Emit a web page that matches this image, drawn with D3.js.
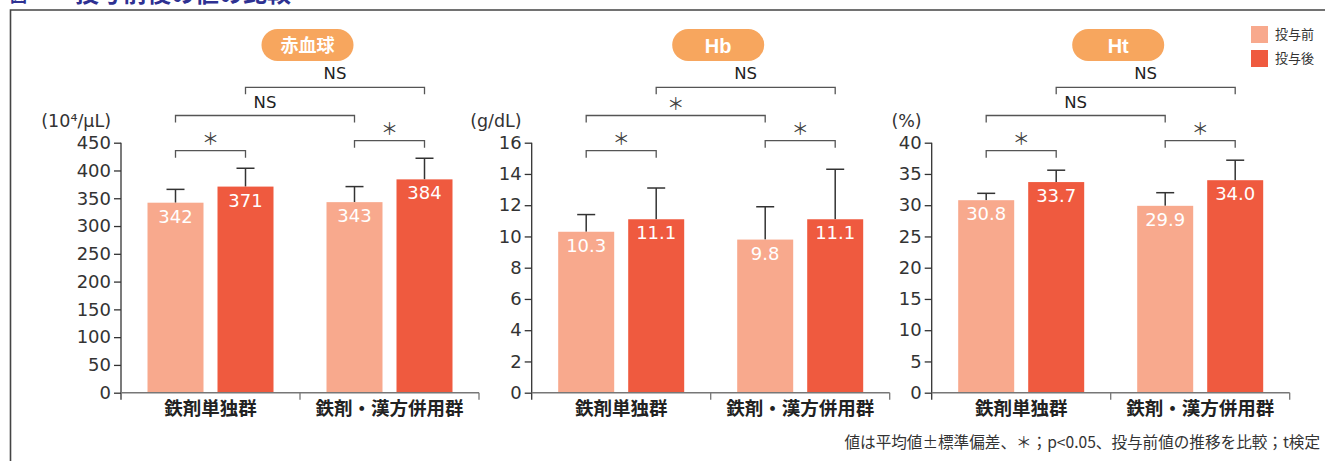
<!DOCTYPE html>
<html lang="ja">
<head>
<meta charset="utf-8">
<script src="https://cdn.jsdelivr.net/npm/d3@7/dist/d3.min.js"></script>
<style>
  html, body { margin: 0; padding: 0; background: #fff; }
  svg { display: block; }
</style>
</head>
<body>
<svg id="chart" width="1325" height="461"></svg>
<script>
// ---- data ----
const groups = ["鉄剤単独群", "鉄剤・漢方併用群"];
const phases = ["投与前", "投与後"];
const panelNames = ["赤血球", "Hb", "Ht"];
const unitLabels = ["(10⁴/μL)", "(g/dL)", "(%)"];

const rbcTicks = [0, 50, 100, 150, 200, 250, 300, 350, 400, 450];
const hbTicks = [0, 2, 4, 6, 8, 10, 12, 14, 16];
const htTicks = [0, 5, 10, 15, 20, 25, 30, 35, 40];

// mean and SD per group: [投与前, 投与後]
const rbcMean = [[342, 371], [343, 384]];
const rbcSD = [[24, 33], [28, 38]];
const hbMean = [[10.3, 11.1], [9.8, 11.1]];
const hbSD = [[1.1, 2.0], [2.1, 3.2]];
const htMean = [[30.8, 33.7], [29.9, 34.0]];
const htSD = [[1.1, 1.9], [2.1, 3.2]];

// significance marks: [単独群 前後, 併用群 前後, 投与前 群間, 投与後 群間]
const rbcSig = ["＊", "＊", "NS", "NS"];
const hbSig = ["＊", "＊", "＊", "NS"];
const htSig = ["＊", "＊", "NS", "NS"];

const footnote = "値は平均値±標準偏差、＊；p<0.05、投与前値の推移を比較；t検定";

// ---- layout ----
const NUM_FONT = "'DejaVu Sans', 'Noto Sans CJK JP', sans-serif";
const JP_FONT = "'Noto Sans CJK JP', sans-serif";
const colors = { "投与前": "#F8A98D", "投与後": "#EF5A3F" };
const INK = "#333";

const panels = [
  { name: panelNames[0], unit: unitLabels[0], ticks: rbcTicks, mean: rbcMean, sd: rbcSD, sig: rbcSig, fmt: d3.format("d"), left: 121 },
  { name: panelNames[1], unit: unitLabels[1], ticks: hbTicks, mean: hbMean, sd: hbSD, sig: hbSig, fmt: d3.format(".1f"), left: 531.7 },
  { name: panelNames[2], unit: unitLabels[2], ticks: htTicks, mean: htMean, sd: htSD, sig: htSig, fmt: d3.format(".1f"), left: 931.7 }
];

const plotW = 358, yTop = 142.7, yBase = 392.7;

const svg = d3.select("#chart");

// figure caption (runs off the top edge) and frame
svg.append("text").attr("x", 10).attr("y", 2)
  .attr("font-family", JP_FONT).attr("font-weight", 700).attr("font-size", 17)
  .attr("fill", "#2E3192").text("図");
svg.append("text").attr("x", 75).attr("y", 2)
  .attr("font-family", JP_FONT).attr("font-weight", 700).attr("font-size", 24)
  .attr("fill", "#2E3192").text("投与前後の値の比較");
svg.append("path").attr("d", "M10.5,470 V10 H1330")
  .attr("fill", "none").attr("stroke", "#444").attr("stroke-width", 1.6);

// legend
const legend = svg.append("g");
phases.forEach((p, i) => {
  legend.append("rect").attr("x", 1251).attr("y", 26 + i * 24).attr("width", 17).attr("height", 17)
    .attr("fill", colors[p]);
  legend.append("text").attr("x", 1275).attr("y", 39 + i * 24)
    .attr("font-family", JP_FONT).attr("font-size", 13).attr("fill", INK).text(p);
});

// footnote
svg.append("text").attr("x", 1320).attr("y", 448).attr("text-anchor", "end")
  .attr("font-family", JP_FONT).attr("font-size", 15.6).attr("fill", INK).text(footnote);

panels.forEach(pn => {
  const g = svg.append("g").attr("transform", `translate(${pn.left},0)`);

  const y = d3.scaleLinear().domain([0, d3.max(pn.ticks)]).range([yBase, yTop]);
  const x0 = d3.scaleBand().domain(groups).range([0, plotW]).padding(0);
  const x1 = d3.scaleBand().domain(phases).range([26.5, 152.5]).paddingInner(0.2);
  const cx = (gi, pi) => x0(groups[gi]) + x1(phases[pi]) + x1.bandwidth() / 2;

  // bars
  groups.forEach((grp, gi) => {
    phases.forEach((ph, pi) => {
      const v = pn.mean[gi][pi], s = pn.sd[gi][pi];
      const xc = cx(gi, pi);
      // error bar (upper SD)
      g.append("line").attr("x1", xc).attr("x2", xc).attr("y1", y(v)).attr("y2", y(v + s))
        .attr("stroke", INK).attr("stroke-width", 1.5);
      g.append("line").attr("x1", xc - 9).attr("x2", xc + 9).attr("y1", y(v + s)).attr("y2", y(v + s))
        .attr("stroke", INK).attr("stroke-width", 1.5);
      g.append("rect")
        .attr("x", x0(grp) + x1(ph)).attr("width", x1.bandwidth())
        .attr("y", y(v)).attr("height", y(0) - y(v))
        .attr("fill", colors[ph]);
      g.append("text").attr("x", xc).attr("y", y(v) + 20).attr("text-anchor", "middle")
        .attr("font-family", NUM_FONT).attr("font-size", 18).attr("fill", "#fff")
        .text(pn.fmt(v));
    });
  });

  // y axis
  const ya = g.append("g").call(d3.axisLeft(y).tickValues(pn.ticks).tickSize(7).tickSizeOuter(0).tickPadding(3));
  ya.select(".domain").attr("stroke", INK).attr("stroke-width", 1.3)
    .attr("d", `M0,${y(d3.max(pn.ticks))}V${yBase + 7}`);
  ya.selectAll(".tick line").attr("stroke", INK).attr("stroke-width", 1.3);
  ya.selectAll(".tick text").attr("font-family", NUM_FONT).attr("font-size", 18).attr("fill", INK);

  // x axis: baseline and group boundary ticks, labels at group centres
  g.append("line").attr("x1", 0).attr("x2", plotW).attr("y1", yBase).attr("y2", yBase)
    .attr("stroke", "#777").attr("stroke-width", 1.6);
  [x0(groups[1]), plotW].forEach(bx => {
    g.append("line").attr("x1", bx).attr("x2", bx).attr("y1", yBase).attr("y2", yBase + 7)
      .attr("stroke", "#777").attr("stroke-width", 1.3);
  });
  const xa = g.append("g").attr("transform", `translate(0,${yBase})`)
    .call(d3.axisBottom(x0).tickSize(0).tickPadding(9));
  xa.select(".domain").remove();
  xa.selectAll(".tick text").attr("font-family", JP_FONT).attr("font-size", 18.5)
    .attr("font-weight", 700).attr("fill", "#222");

  // unit label
  g.append("text").attr("x", -10).attr("y", 127).attr("text-anchor", "end")
    .attr("font-family", NUM_FONT).attr("font-size", 17.5).attr("fill", INK).text(pn.unit);

  // panel title pill
  const pillW = 92, pillH = 32, pillCx = 186.5;
  g.append("rect").attr("x", pillCx - pillW / 2).attr("y", 29).attr("width", pillW).attr("height", pillH)
    .attr("rx", pillH / 2).attr("fill", "#F7A65E");
  const cjk = /[\u3000-\u9fff]/.test(pn.name);
  g.append("text").attr("x", pillCx).attr("y", cjk ? 52 : 52.5).attr("text-anchor", "middle")
    .attr("font-family", cjk ? JP_FONT : "'Liberation Sans', sans-serif")
    .attr("font-weight", 700).attr("font-size", cjk ? 18 : 20).attr("fill", "#fff").text(pn.name);

  // significance brackets
  const brackets = [
    { a: [0, 0], b: [0, 1], y: 150.7 },
    { a: [1, 0], b: [1, 1], y: 140.7 },
    { a: [0, 0], b: [1, 0], y: 115.5 },
    { a: [0, 1], b: [1, 1], y: 87.3 }
  ];
  brackets.forEach((br, i) => {
    const xa1 = cx(br.a[0], br.a[1]), xb1 = cx(br.b[0], br.b[1]);
    g.append("path").attr("d", `M${xa1},${br.y + 7}V${br.y}H${xb1}V${br.y + 7}`)
      .attr("fill", "none").attr("stroke", "#555").attr("stroke-width", 1.3);
    const lab = pn.sig[i];
    const mid = (xa1 + xb1) / 2;
    if (lab === "NS") {
      g.append("text").attr("x", mid).attr("y", br.y - 8).attr("text-anchor", "middle")
        .attr("font-family", NUM_FONT).attr("font-size", 16.5).attr("fill", "#222").text(lab);
    } else {
      g.append("text").attr("x", mid).attr("y", br.y - 6).attr("text-anchor", "middle")
        .attr("font-family", JP_FONT).attr("font-size", 17).attr("fill", "#444").text(lab);
    }
  });
});
</script>
</body>
</html>
